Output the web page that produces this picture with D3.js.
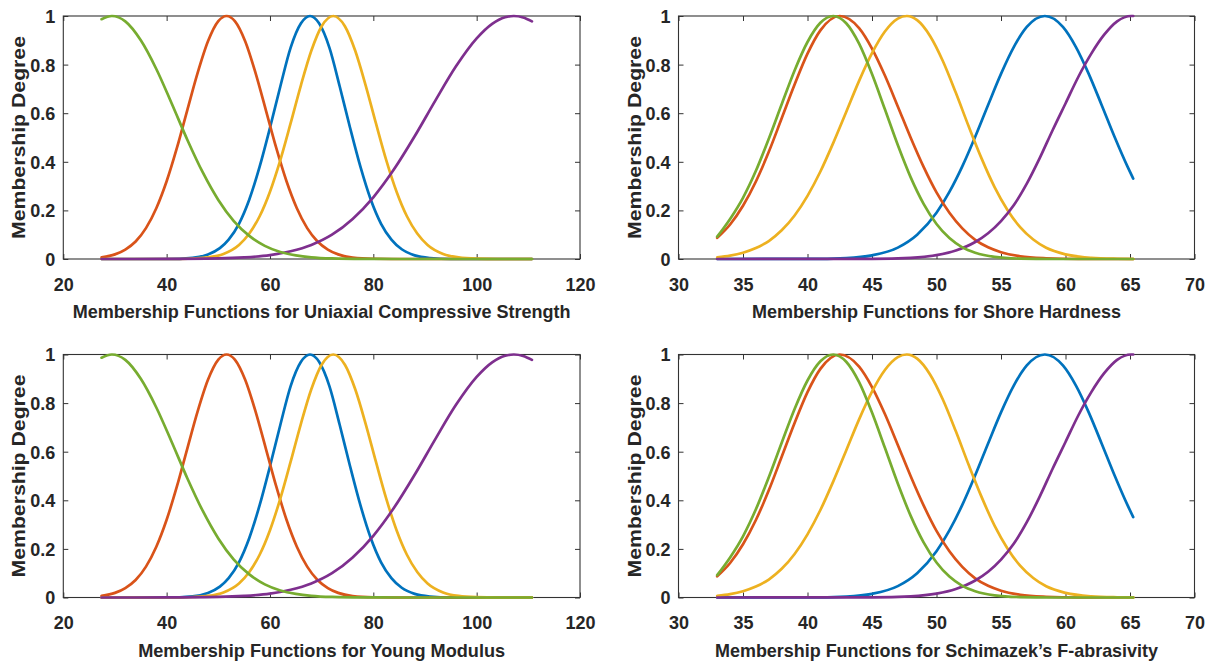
<!DOCTYPE html>
<html><head><meta charset="utf-8">
<script src="https://cdn.jsdelivr.net/npm/d3@7"></script>
<style>
html,body{margin:0;padding:0;background:#fff;}
svg{display:block;font-family:"Liberation Sans",Arial,Helvetica,sans-serif;}
</style>
</head><body>
<svg id="chart" width="1216" height="661"></svg>
<script>
// ---------- tick labels ----------
const yTicks = [0, 0.2, 0.4, 0.6, 0.8, 1];
const ucsTicks = [20, 40, 60, 80, 100, 120];
const shoreTicks = [30, 35, 40, 45, 50, 55, 60, 65, 70];

// ---------- Uniaxial Compressive Strength ----------
const ucsBlue = [[27.4,0],[40,0],[45,0.005],[48,0.019],[50.3,0.045],[52,0.08],[54,0.145],[56,0.245],[58,0.38],[60,0.54],[62,0.71],[64,0.87],[66,0.97],[67.75,1],[69.5,0.97],[71.5,0.87],[73.5,0.71],[75.5,0.54],[77.5,0.38],[79.5,0.245],[81.5,0.145],[83.5,0.08],[85.5,0.04],[88,0.015],[91,0.004],[95,0],[110.7,0]];
const ucsOrange = [[27.4,0.007],[30,0.019],[32,0.039],[34,0.072],[36,0.127],[38,0.209],[40,0.32],[42,0.458],[44,0.613],[46,0.766],[48,0.896],[50,0.979],[51.6,1],[53.2,0.979],[55.2,0.896],[57.2,0.766],[59.2,0.613],[61.2,0.458],[63.2,0.32],[65.2,0.209],[67.2,0.127],[69.2,0.072],[71.2,0.039],[73.2,0.019],[76,0.006],[80,0.001],[85,0],[110.7,0]];
const ucsYellow = [[27.4,0],[42,0],[45,0.002],[48,0.0065],[51,0.021],[54,0.058],[56,0.105],[58,0.176],[60,0.277],[62,0.407],[64,0.559],[66,0.716],[68,0.857],[70,0.958],[72.25,1],[74.5,0.958],[76.5,0.857],[78.5,0.716],[80.5,0.559],[82.5,0.407],[84.5,0.277],[86.5,0.176],[88.5,0.105],[90.5,0.058],[93.5,0.021],[96.5,0.0065],[100,0.0014],[104,0],[110.7,0]];
const ucsPurple = [[27.4,0],[40,0.0002],[50,0.0023],[55,0.0064],[60,0.016],[64,0.032],[68,0.058],[72,0.10],[76,0.165],[80,0.254],[84,0.369],[88,0.505],[92,0.652],[96,0.793],[100,0.908],[103,0.968],[105.5,0.995],[107.2,1],[109,0.994],[110.7,0.978]];
const ucsGreen = [[27.4,0.987],[29.4,1],[32,0.978],[35,0.90],[38,0.782],[41,0.639],[44,0.491],[47,0.356],[50,0.243],[53,0.156],[56,0.095],[59,0.054],[62,0.029],[65,0.015],[68,0.007],[72,0.0024],[78,0.0004],[85,0],[110.7,0]];

// ---------- Shore Hardness ----------
const shoreBlue = [[33,0],[40,0.0003],[43,0.004],[45,0.015],[47,0.047],[48.5,0.1],[50,0.19],[51,0.276],[52,0.381],[53,0.503],[54,0.634],[55,0.762],[56,0.873],[57,0.955],[58.4,1],[59.8,0.955],[60.8,0.873],[61.8,0.762],[62.8,0.634],[63.8,0.503],[64.8,0.381],[65.25,0.331]];
const shoreOrange = [[33,0.087],[34,0.142],[35,0.219],[36,0.319],[37,0.441],[38,0.579],[39,0.718],[40,0.845],[41,0.941],[42.5,1],[44,0.95],[45,0.866],[46,0.755],[47,0.628],[48,0.499],[49,0.379],[50,0.274],[51,0.19],[52,0.126],[53,0.079],[54,0.048],[55,0.028],[56.5,0.011],[58.5,0.003],[61,0],[65.25,0]];
const shoreYellow = [[33,0.007],[34,0.014],[35,0.026],[36,0.045],[37,0.074],[38,0.118],[39,0.179],[40,0.26],[41,0.36],[42,0.478],[43,0.605],[44,0.733],[45,0.847],[46,0.936],[47,0.989],[47.7,1],[48.5,0.983],[49.5,0.918],[50.5,0.814],[51.5,0.684],[52.5,0.545],[53.5,0.413],[54.5,0.296],[55.5,0.202],[56.5,0.13],[57.5,0.08],[58.5,0.046],[60,0.019],[62,0.005],[64,0.001],[65.25,0]];
const shorePurple = [[33,0],[45,0.0006],[48,0.005],[50,0.016],[51.5,0.035],[53,0.07],[54,0.106],[55,0.156],[56,0.222],[57,0.31],[58,0.415],[59,0.53],[60,0.64],[61,0.75],[62,0.845],[63,0.923],[64,0.978],[65.1,1],[65.25,1]];
const shoreGreen = [[33,0.092],[34,0.165],[35,0.252],[36,0.363],[37,0.495],[38,0.637],[39,0.776],[40,0.893],[41,0.972],[42,1],[43,0.97],[44,0.886],[45,0.761],[46,0.616],[47,0.469],[48,0.336],[49,0.227],[50,0.144],[51,0.086],[52,0.048],[53,0.026],[54.5,0.009],[56.5,0.0017],[59,0],[65.25,0]];

// ---------- Young Modulus ----------
const youngBlue = [[27.4,0],[40,0],[45,0.005],[48,0.019],[50.3,0.045],[52,0.08],[54,0.145],[56,0.245],[58,0.38],[60,0.54],[62,0.71],[64,0.87],[66,0.97],[67.75,1],[69.5,0.97],[71.5,0.87],[73.5,0.71],[75.5,0.54],[77.5,0.38],[79.5,0.245],[81.5,0.145],[83.5,0.08],[85.5,0.04],[88,0.015],[91,0.004],[95,0],[110.7,0]];
const youngOrange = [[27.4,0.007],[30,0.019],[32,0.039],[34,0.072],[36,0.127],[38,0.209],[40,0.32],[42,0.458],[44,0.613],[46,0.766],[48,0.896],[50,0.979],[51.6,1],[53.2,0.979],[55.2,0.896],[57.2,0.766],[59.2,0.613],[61.2,0.458],[63.2,0.32],[65.2,0.209],[67.2,0.127],[69.2,0.072],[71.2,0.039],[73.2,0.019],[76,0.006],[80,0.001],[85,0],[110.7,0]];
const youngYellow = [[27.4,0],[42,0],[45,0.002],[48,0.0065],[51,0.021],[54,0.058],[56,0.105],[58,0.176],[60,0.277],[62,0.407],[64,0.559],[66,0.716],[68,0.857],[70,0.958],[72.25,1],[74.5,0.958],[76.5,0.857],[78.5,0.716],[80.5,0.559],[82.5,0.407],[84.5,0.277],[86.5,0.176],[88.5,0.105],[90.5,0.058],[93.5,0.021],[96.5,0.0065],[100,0.0014],[104,0],[110.7,0]];
const youngPurple = [[27.4,0],[40,0.0002],[50,0.0023],[55,0.0064],[60,0.016],[64,0.032],[68,0.058],[72,0.10],[76,0.165],[80,0.254],[84,0.369],[88,0.505],[92,0.652],[96,0.793],[100,0.908],[103,0.968],[105.5,0.995],[107.2,1],[109,0.994],[110.7,0.978]];
const youngGreen = [[27.4,0.987],[29.4,1],[32,0.978],[35,0.90],[38,0.782],[41,0.639],[44,0.491],[47,0.356],[50,0.243],[53,0.156],[56,0.095],[59,0.054],[62,0.029],[65,0.015],[68,0.007],[72,0.0024],[78,0.0004],[85,0],[110.7,0]];

// ---------- Schimazek's F-abrasivity ----------
const fabBlue = [[33,0],[40,0.0003],[43,0.004],[45,0.015],[47,0.047],[48.5,0.1],[50,0.19],[51,0.276],[52,0.381],[53,0.503],[54,0.634],[55,0.762],[56,0.873],[57,0.955],[58.4,1],[59.8,0.955],[60.8,0.873],[61.8,0.762],[62.8,0.634],[63.8,0.503],[64.8,0.381],[65.25,0.331]];
const fabOrange = [[33,0.087],[34,0.142],[35,0.219],[36,0.319],[37,0.441],[38,0.579],[39,0.718],[40,0.845],[41,0.941],[42.5,1],[44,0.95],[45,0.866],[46,0.755],[47,0.628],[48,0.499],[49,0.379],[50,0.274],[51,0.19],[52,0.126],[53,0.079],[54,0.048],[55,0.028],[56.5,0.011],[58.5,0.003],[61,0],[65.25,0]];
const fabYellow = [[33,0.007],[34,0.014],[35,0.026],[36,0.045],[37,0.074],[38,0.118],[39,0.179],[40,0.26],[41,0.36],[42,0.478],[43,0.605],[44,0.733],[45,0.847],[46,0.936],[47,0.989],[47.7,1],[48.5,0.983],[49.5,0.918],[50.5,0.814],[51.5,0.684],[52.5,0.545],[53.5,0.413],[54.5,0.296],[55.5,0.202],[56.5,0.13],[57.5,0.08],[58.5,0.046],[60,0.019],[62,0.005],[64,0.001],[65.25,0]];
const fabPurple = [[33,0],[45,0.0006],[48,0.005],[50,0.016],[51.5,0.035],[53,0.07],[54,0.106],[55,0.156],[56,0.222],[57,0.31],[58,0.415],[59,0.53],[60,0.64],[61,0.75],[62,0.845],[63,0.923],[64,0.978],[65.1,1],[65.25,1]];
const fabGreen = [[33,0.092],[34,0.165],[35,0.252],[36,0.363],[37,0.495],[38,0.637],[39,0.776],[40,0.893],[41,0.972],[42,1],[43,0.97],[44,0.886],[45,0.761],[46,0.616],[47,0.469],[48,0.336],[49,0.227],[50,0.144],[51,0.086],[52,0.048],[53,0.026],[54.5,0.009],[56.5,0.0017],[59,0],[65.25,0]];

const titles = [
  "Membership Functions for Uniaxial Compressive Strength",
  "Membership Functions for Shore Hardness",
  "Membership Functions for Young Modulus",
  "Membership Functions for Schimazek\u2019s F-abrasivity"
];
const yTitle = "Membership Degree";
const colors = ["#0072BD", "#D95319", "#EDB120", "#7E2F8E", "#77AC30"];

// ---------- layout ----------
const svg = d3.select("#chart");
const TXT = "#262626";
const panels = [
  {title: titles[0], domain: [20,120], ticks: ucsTicks, series: [ucsBlue,ucsOrange,ucsYellow,ucsPurple,ucsGreen], L: 63.3, R: 580, T: 16, B: 259, tl: 498},
  {title: titles[1], domain: [30,70], ticks: shoreTicks, series: [shoreBlue,shoreOrange,shoreYellow,shorePurple,shoreGreen], L: 678.5, R: 1194.5, T: 16, B: 259, tl: 369},
  {title: titles[2], domain: [20,120], ticks: ucsTicks, series: [youngBlue,youngOrange,youngYellow,youngPurple,youngGreen], L: 63.3, R: 580, T: 354.5, B: 597.5, tl: 367},
  {title: titles[3], domain: [30,70], ticks: shoreTicks, series: [fabBlue,fabOrange,fabYellow,fabPurple,fabGreen], L: 678.5, R: 1194.5, T: 354.5, B: 597.5, tl: 443}
];

panels.forEach(p => {
  const x = d3.scaleLinear().domain(p.domain).range([p.L, p.R]);
  const y = d3.scaleLinear().domain([0, 1]).range([p.B, p.T]);
  const g = svg.append("g");

  const gb = g.append("g").attr("transform", `translate(0,${p.B})`)
    .call(d3.axisBottom(x).tickValues(p.ticks).tickSizeInner(-5).tickSizeOuter(0).tickFormat(d3.format("d")));
  gb.selectAll("text").attr("y", 31.5).attr("dy", null);
  const gt = g.append("g").attr("transform", `translate(0,${p.T})`)
    .call(d3.axisTop(x).tickValues(p.ticks).tickSizeInner(-5).tickSizeOuter(0).tickFormat(""));
  const gl = g.append("g").attr("transform", `translate(${p.L},0)`)
    .call(d3.axisLeft(y).tickValues(yTicks).tickSizeInner(-5).tickSizeOuter(0).tickFormat(d3.format("~g")));
  gl.selectAll("text").attr("x", -8).attr("dy", "0.36em");
  const gr = g.append("g").attr("transform", `translate(${p.R},0)`)
    .call(d3.axisRight(y).tickValues(yTicks).tickSizeInner(-5).tickSizeOuter(0).tickFormat(""));

  [gb, gt, gl, gr].forEach(a => {
    a.select(".domain").remove();
    a.selectAll("line").attr("stroke", "#333").attr("stroke-width", 1);
    a.selectAll("text").attr("fill", TXT).attr("font-size", 18).attr("font-weight", "bold")
      .attr("font-family", '"Liberation Sans", Arial, sans-serif');
  });
  g.append("rect").attr("x", p.L).attr("y", p.T).attr("width", p.R - p.L).attr("height", p.B - p.T)
    .attr("fill", "none").attr("stroke", "#333").attr("stroke-width", 1.1);

  const line = d3.line().x(d => x(d[0])).y(d => y(d[1])).curve(d3.curveMonotoneX);
  p.series.forEach((s, i) => {
    g.append("path").datum(s).attr("d", line).attr("fill", "none")
      .attr("stroke", colors[i]).attr("stroke-width", 2.7)
      .attr("stroke-linejoin", "round").attr("stroke-linecap", "round");
  });

  g.append("text").attr("x", (p.L + p.R) / 2).attr("y", p.B + 59)
    .attr("text-anchor", "middle").attr("font-size", 19).attr("font-weight", "bold").attr("fill", TXT)
    .attr("textLength", p.tl).attr("lengthAdjust", "spacingAndGlyphs")
    .text(p.title);
  const cy = (p.T + p.B) / 2;
  g.append("text").attr("transform", `translate(${p.L - 38},${cy}) rotate(-90)`)
    .attr("text-anchor", "middle").attr("font-size", 18).attr("font-weight", "bold").attr("fill", TXT)
    .attr("textLength", 203).attr("lengthAdjust", "spacingAndGlyphs")
    .text(yTitle);
});
</script>
</body></html>
